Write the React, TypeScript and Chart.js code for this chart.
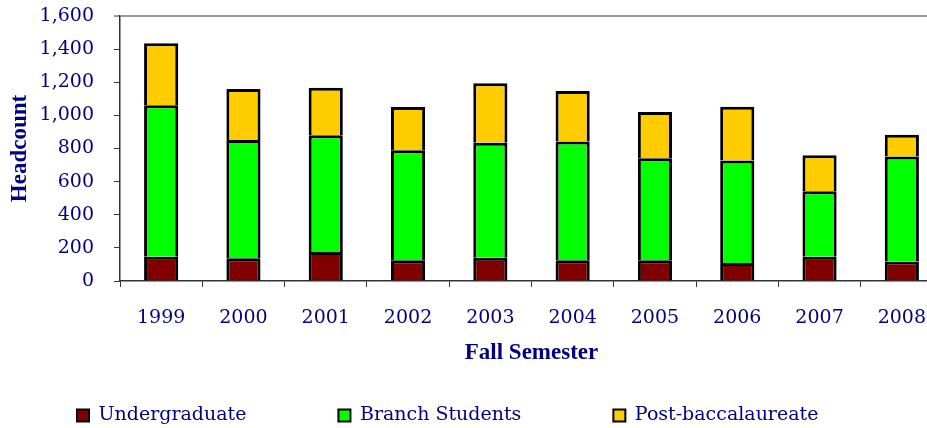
import { useEffect, useRef } from 'react';
import { Chart, registerables } from 'chart.js';

Chart.register(...registerables);

const years = ['1999', '2000', '2001', '2002', '2003', '2004', '2005', '2006', '2007', '2008'];
const undergraduate = [147, 137, 175, 125, 141, 125, 125, 109, 147, 117];
const branchStudents = [914, 714, 705, 664, 694, 718, 616, 618, 395, 634];
const postBaccalaureate = [374, 308, 287, 262, 359, 304, 279, 325, 217, 132];

const seriesNames = ['Undergraduate', 'Branch Students', 'Post-baccalaureate'];
const seriesColors = ['#800000', '#00ff00', '#ffcc00'];

const navy = '#000080';

export default function App() {
  const ref = useRef<HTMLCanvasElement>(null);

  useEffect(() => {
    const canvas = ref.current;
    if (!canvas) return;

    const legendShift = {
      id: 'legendShift',
      afterLayout(chart: any) {
        const lg = chart.legend;
        if (!lg) return;
        lg.left = -15;
        lg.top = 314;
        lg.bottom = 428;
      },
    };

    const chart = new Chart(canvas, {
      type: 'bar',
      data: {
        labels: years,
        datasets: [undergraduate, branchStudents, postBaccalaureate].map((d, i) => ({
          label: seriesNames[i],
          data: d,
          backgroundColor: seriesColors[i],
          borderColor: '#000000',
          borderWidth: 3,
        })),
      },
      options: {
        responsive: false,
        animation: false,
        devicePixelRatio: 1,
        layout: { padding: { top: 16, right: 7, left: 0, bottom: 0 } },
        datasets: { bar: { barPercentage: 0.415, categoryPercentage: 1 } },
        scales: {
          x: {
            stacked: true,
            grid: {
              offset: true,
              drawOnChartArea: false,
              drawTicks: true,
              tickLength: 6,
              color: '#333333',
              tickColor: '#333333',
            },
            border: { display: true, color: '#333333', width: 1.5 },
            ticks: {
              padding: 20,
              color: navy,
              font: { family: '"DejaVu Serif", serif', size: 19 },
              maxRotation: 0,
            },
            title: {
              display: true,
              text: 'Fall Semester',
              color: navy,
              font: { family: '"Liberation Serif", serif', size: 23, weight: 'bold' },
              padding: { top: 0, bottom: 41 },
            },
            afterFit: (s: any) => {
              s.height = 127;
              s.paddingLeft = 0;
              s.paddingRight = 0;
              s.paddingTop = 0;
              s.paddingBottom = 0;
            },
          },
          y: {
            stacked: true,
            min: 0,
            max: 1600,
            grid: {
              drawOnChartArea: true,
              drawTicks: true,
              tickLength: 6,
              color: (c: any) => (c.tick && c.tick.value === 1600 ? '#999999' : 'rgba(0,0,0,0)'),
              lineWidth: (c: any) => (c.tick && c.tick.value === 1600 ? 2 : 1),
              tickColor: '#333333',
              tickWidth: 1,
            },
            border: { display: true, color: '#333333', width: 1.5 },
            ticks: {
              stepSize: 200,
              padding: 20,
              color: navy,
              font: { family: '"DejaVu Serif", serif', size: 19 },
              callback: (v: any) => Number(v).toLocaleString('en-US'),
            },
            title: {
              display: true,
              text: 'Headcount',
              color: navy,
              font: { family: '"Liberation Serif", serif', size: 23, weight: 'bold' },
              padding: { top: 6, bottom: 0 },
            },
            afterFit: (s: any) => {
              s.width = 120;
              s.paddingTop = 0;
              s.paddingBottom = 0;
              s.paddingLeft = 0;
              s.paddingRight = 0;
            },
          },
        },
        plugins: {
          legend: {
            display: true,
            position: 'bottom',
            align: 'start',
            maxHeight: 20,
            labels: {
              boxWidth: 12,
              boxHeight: 12,
              padding: 92,
              color: navy,
              font: { family: '"DejaVu Serif", serif', size: 19 },
              generateLabels: (ch: any) =>
                Chart.defaults.plugins.legend.labels
                  .generateLabels(ch)
                  .map((l: any) => ({ ...l, lineWidth: 2 })),
            },
          },
          tooltip: { enabled: false },
          title: { display: false },
        },
      } as any,
      plugins: [legendShift],
    });

    return () => chart.destroy();
  }, []);

  return (
    <div
      style={{
        position: 'fixed',
        left: 0,
        top: 0,
        width: 927,
        height: 428,
        overflow: 'hidden',
        background: '#ffffff',
      }}
    >
      <canvas ref={ref} width={950} height={428} style={{ display: 'block' }} />
    </div>
  );
}
